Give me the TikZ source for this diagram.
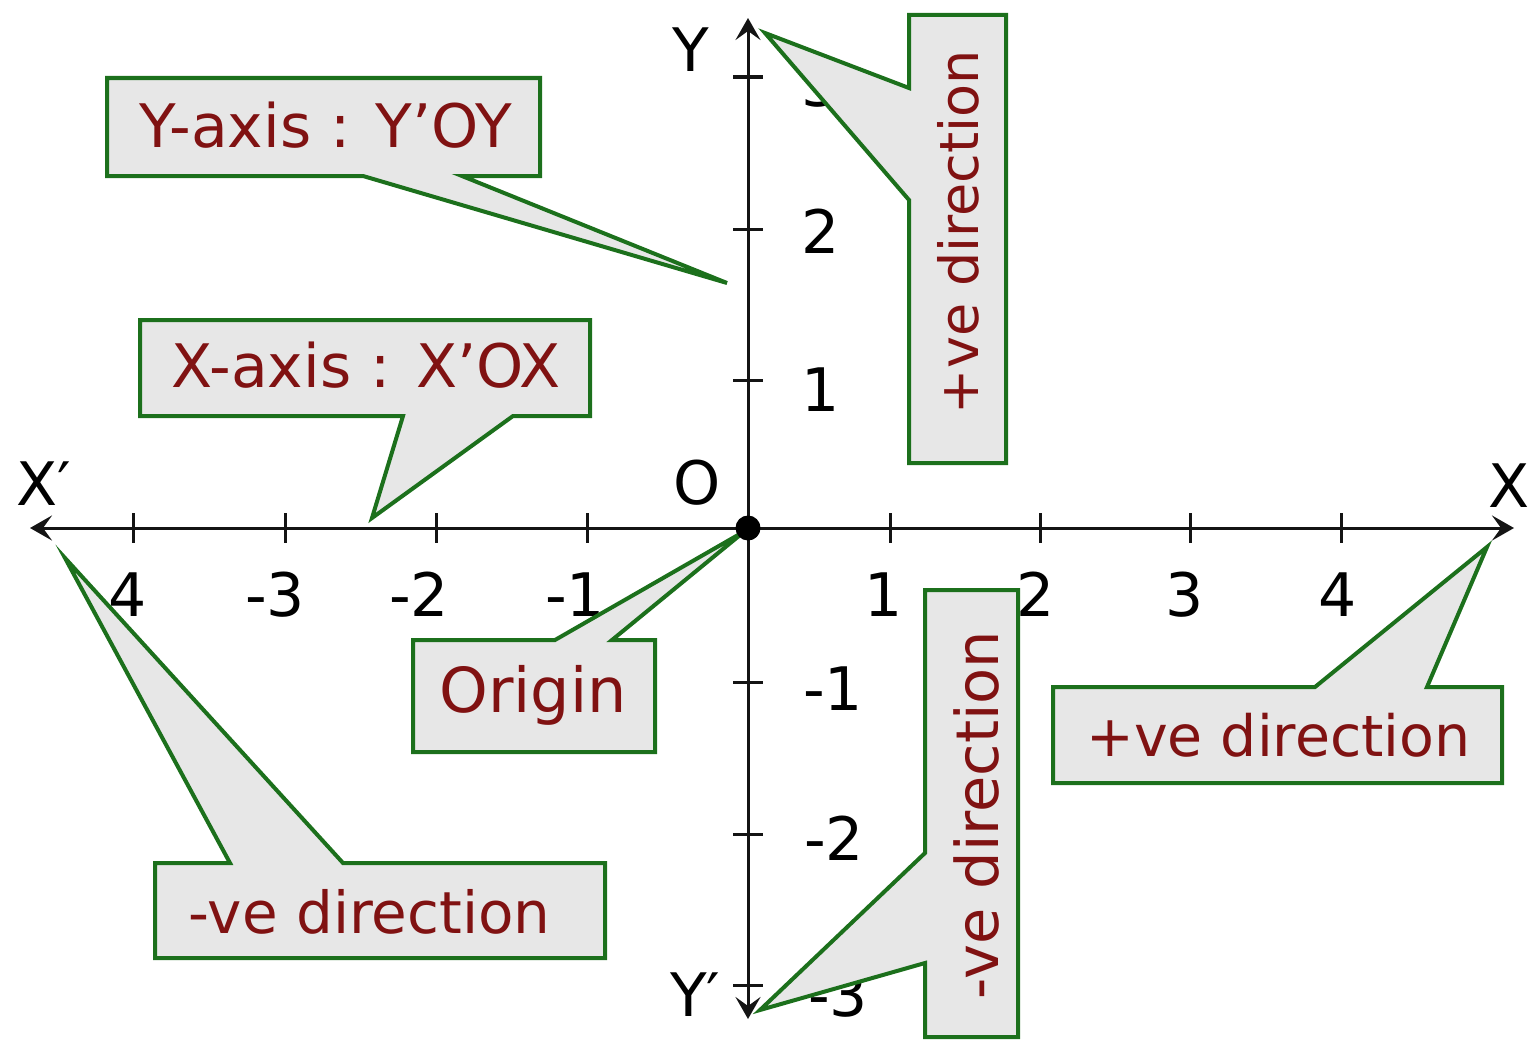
\documentclass[tikz,border=0pt]{standalone}
\usepackage{fontspec}
\setmainfont{DejaVu Sans}
\usetikzlibrary{arrows.meta,calc}
\definecolor{cgreen}{RGB}{28,112,28}
\definecolor{cfill}{RGB}{231,231,231}
\definecolor{cred}{RGB}{128,18,18}
\newcommand\fs[1]{\fontsize{#1}{#1}\selectfont}
\tikzset{axtip/.tip={Stealth[length=22pt,width=25pt,inset=9pt]}}

\begin{document}
\begin{tikzpicture}[x=1pt,y=-1pt,
  axis/.style={line width=3pt, draw=black!92, axtip-axtip},
  tickmark/.style={line width=3pt, draw=black!92},
  sz/.style={font=\fs{#1}, inner sep=0pt, text height={0.73*#1pt}, text depth=0pt},
  num/.style={sz=60, text=black},
  callout/.style={draw=cgreen, fill=cfill, line width=4pt, line join=miter},
  calbox/.style={rectangle, inner sep=0pt, outer sep=0pt},
  caltext/.style={text=cred},
  dot/.style={circle, fill=black, inner sep=0pt, minimum size=25pt}]
\useasboundingbox (0,0) rectangle (1531,1041);

% ---- axes ----
\coordinate (origin) at (748,528);
\coordinate (xneg) at (30,528);
\coordinate (xpos) at (1514,528);
\coordinate (ypos) at (748,18);
\coordinate (yneg) at (748,1019);
\draw[axis] (xneg) -- (xpos);
\draw[axis] (yneg) -- (ypos);

% ticks
\foreach \x in {133,285,436,587,890,1040,1190,1341}
  \draw[tickmark] (\x,513) -- (\x,543);
\foreach \y in {77,229,380,682,834,985}
  \draw[tickmark] (733,\y) -- (763,\y);

% tick labels
\foreach \x/\t [count=\i] in {128/4,275/-3,419/-2,575/-1,884/1,1036/2,1185/3,1338/4}
  \node[num] (xn\i) at (\x,595) {\t};
\foreach \y/\xx/\t [count=\i] in {85/821/3,232/821/2,390/821/1,689/833/-1,839/834/-2,995/838/-3}
  \node[num] (yn\i) at (\xx,\y) {\t};

% axis names
\node[num, anchor=west] (lXn) at (16,484) {X′};
\node[num] (lXp) at (1509,486) {X};
\node[num] (lYp) at (691,50) {Y};
\node[num, anchor=west] (lYn) at (670,995) {Y′};
\node[num] (lO) at (697,483) {O};

% ---- callouts ----
% Y-axis
\node[calbox, minimum width=433pt, minimum height=98pt] (ybox) at (323.5,127) {};
\coordinate (ytip) at (727,283);
\draw[callout] (ybox.north west) -- (ybox.north east) -- (ybox.south east)
  -- ($(ybox.south west)+(355,0)$) -- (ytip) -- ($(ybox.south west)+(256,0)$)
  -- (ybox.south west) -- cycle;
\node[caltext, sz=60] (ytxt) at (326,126) {Y-axis : Y’OY};

% X-axis
\node[calbox, minimum width=450pt, minimum height=96pt] (xbox) at (365,368) {};
\coordinate (xtip) at (372,518);
\draw[callout] (xbox.north west) -- (xbox.north east) -- (xbox.south east)
  -- ($(xbox.south west)+(373,0)$) -- (xtip) -- ($(xbox.south west)+(263,0)$)
  -- (xbox.south west) -- cycle;
\node[caltext, sz=60] (xtxt) at (366,366) {X-axis : X’OX};

% origin
\node[calbox, minimum width=242pt, minimum height=112pt] (obox) at (534,696) {};
\coordinate (otip) at ($(origin)+(-3,3)$);
\draw[callout] (obox.north west) -- ($(obox.north west)+(142,0)$) -- (otip)
  -- ($(obox.north west)+(199,0)$) -- (obox.north east) -- (obox.south east)
  -- (obox.south west) -- cycle;
\node[caltext, sz=62] (otxt) at (533,690) {Origin};

% negative x direction
\node[calbox, minimum width=450pt, minimum height=95pt] (nxbox) at (380,910.5) {};
\coordinate (nxtip) at (65,558);
\draw[callout] (nxbox.north west) -- ($(nxbox.north west)+(75,0)$) -- (nxtip)
  -- ($(nxbox.north west)+(188,0)$) -- (nxbox.north east) -- (nxbox.south east)
  -- (nxbox.south west) -- cycle;
\node[caltext, sz=58] (nxtxt) at (369.5,912) {-ve direction};

% positive x direction
\node[calbox, minimum width=449pt, minimum height=96pt] (pxbox) at (1277.5,735) {};
\coordinate (pxtip) at (1487,547);
\draw[callout] (pxbox.north west) -- ($(pxbox.north west)+(262,0)$) -- (pxtip)
  -- ($(pxbox.north west)+(374,0)$) -- (pxbox.north east) -- (pxbox.south east)
  -- (pxbox.south west) -- cycle;
\node[caltext, sz=57] (pxtxt) at (1278.5,736) {+ve direction};

% positive y direction
\node[calbox, minimum width=97pt, minimum height=448pt] (pybox) at (957.5,239) {};
\coordinate (pytip) at (765,33);
\draw[callout] (pybox.north west) -- (pybox.north east) -- (pybox.south east)
  -- (pybox.south west) -- ($(pybox.north west)+(0,185)$) -- (pytip)
  -- ($(pybox.north west)+(0,73)$) -- cycle;
\node[caltext, sz=54, rotate=90] (pytxt) at (959,232) {+ve direction};

% negative y direction
\node[calbox, minimum width=93pt, minimum height=447pt] (nybox) at (971.5,813.5) {};
\coordinate (nytip) at (760,1010);
\draw[callout] (nybox.north west) -- (nybox.north east) -- (nybox.south east)
  -- (nybox.south west) -- ($(nybox.north west)+(0,373)$) -- (nytip)
  -- ($(nybox.north west)+(0,263)$) -- cycle;
\node[caltext, sz=59, rotate=90] (nytxt) at (977,815) {-ve direction};

% origin point
\node[dot] (O) at (origin) {};
\end{tikzpicture}
\end{document}
